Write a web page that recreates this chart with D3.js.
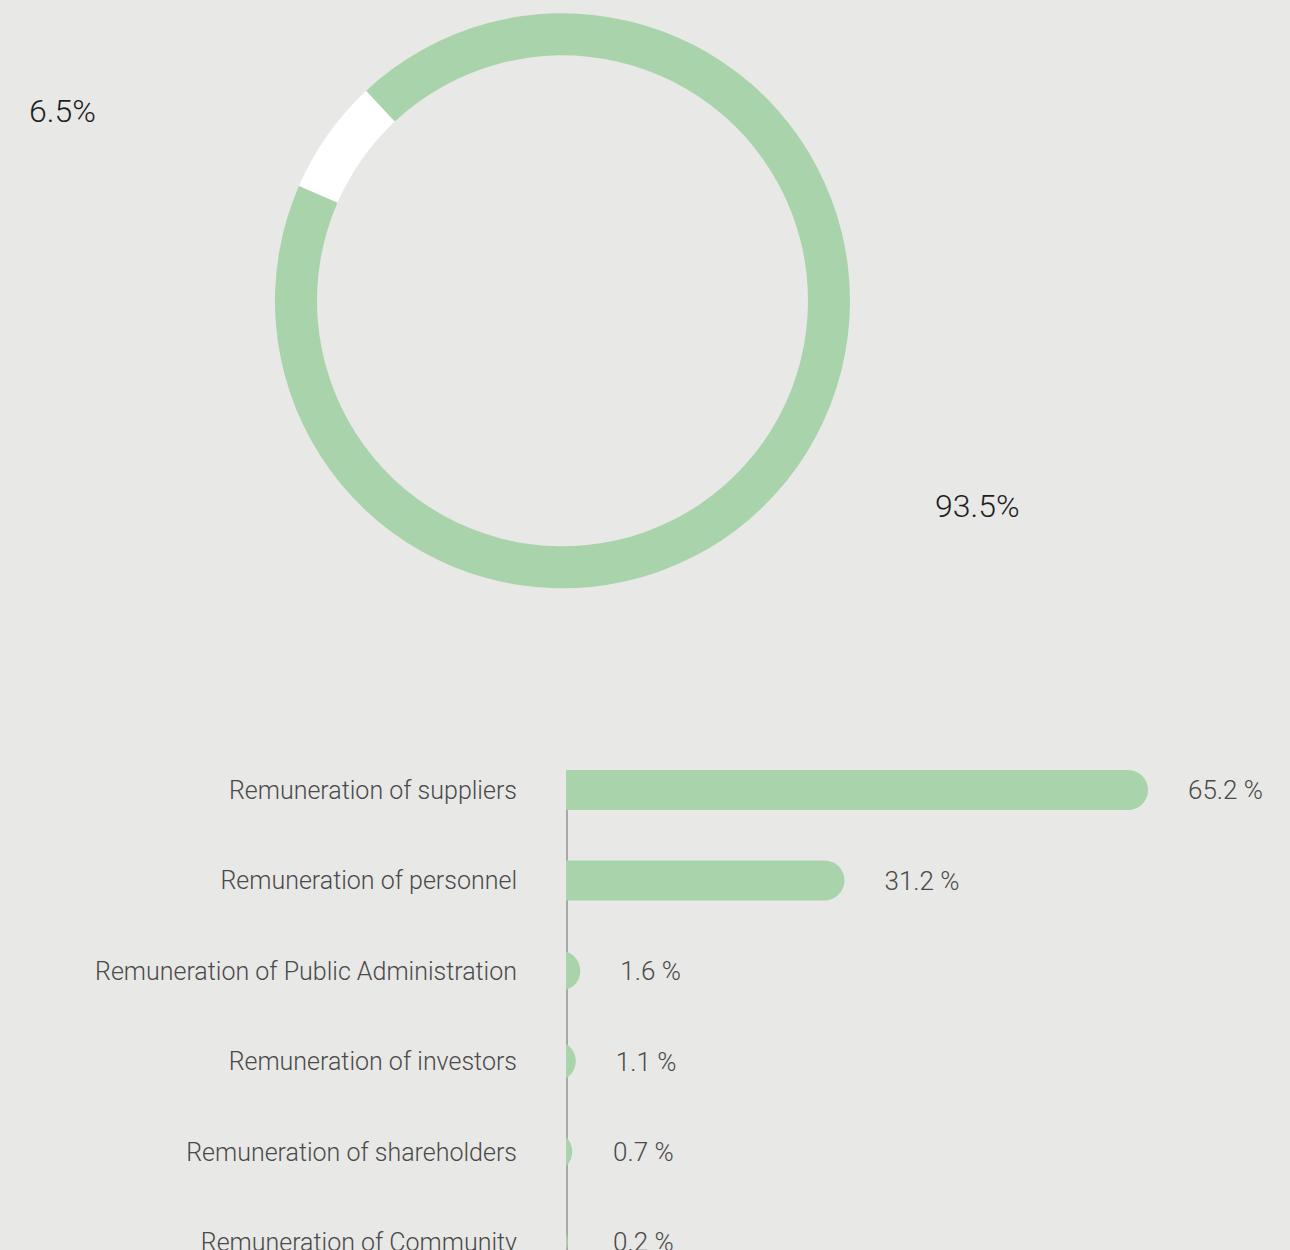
<!DOCTYPE html>
<html>
<head>
<meta charset="utf-8">
<script src="https://cdn.jsdelivr.net/npm/d3@7"></script>
<style>
  html, body { margin: 0; padding: 0; background: #e8e8e6; }
  svg { display: block; font-family: Roboto, "Noto Sans", sans-serif; }
</style>
</head>
<body>
<svg id="chart" width="1290" height="1250"></svg>
<script>
// ---- data ----
const donutLabels = ["6.5%", "93.5%"];
const donutValues = [6.5, 93.5];
const donutColors = ["#ffffff", "#a9d3ab"];

const barCategories = [
  "Remuneration of suppliers",
  "Remuneration of personnel",
  "Remuneration of Public Administration",
  "Remuneration of investors",
  "Remuneration of shareholders",
  "Remuneration of Community"
];
const barValues = [65.2, 31.2, 1.6, 1.1, 0.7, 0.2];
const barValueLabels = ["65.2 %", "31.2 %", "1.6 %", "1.1 %", "0.7 %", "0.2 %"];

// ---- setup ----
const svg = d3.select("#chart");
const W = 1290, H = 1250;
svg.append("rect").attr("width", W).attr("height", H).attr("fill", "#e8e8e6");

// ---- donut ----
const cx = 562.5, cy = 300.8, rOuter = 287.5, rInner = 245.5;
const start = -1.16;
const pie = d3.pie().sort(null).startAngle(start).endAngle(start + 2 * Math.PI);
const arc = d3.arc().innerRadius(rInner).outerRadius(rOuter);
const arcs = pie(donutValues);
const gD = svg.append("g").attr("transform", `translate(${cx},${cy})`);
gD.selectAll("path").data(arcs).join("path")
  .attr("d", arc)
  .attr("fill", (d, i) => donutColors[i]);

// labels for donut
const donutLabelPos = [[29, 122], [935, 517]];
svg.selectAll("text.dl").data(donutLabels).join("text")
  .attr("class", "dl")
  .attr("x", (d, i) => donutLabelPos[i][0])
  .attr("y", (d, i) => donutLabelPos[i][1])
  .attr("font-size", 32)
  .attr("font-weight", 300)
  .attr("fill", "#1e1e1e")
  .text(d => d);

// ---- bar chart ----
const x0 = 566;
const x = d3.scaleLinear().domain([0, 65.2]).range([0, 582]);
const y = d3.scalePoint().domain(barCategories).range([790, 1242]);
const bh = 40, rad = 20;

const defs = svg.append("defs");
defs.append("clipPath").attr("id", "barclip")
  .append("rect").attr("x", x0).attr("y", 700).attr("width", W - x0).attr("height", H);

// axis line
const axis = d3.axisLeft(y).tickSize(0).tickFormat("");
const gA = svg.append("g").attr("transform", `translate(${x0 + 1},0)`).call(axis);
gA.select(".domain").attr("stroke", "#a8a8a8").attr("stroke-width", 2)
  .attr("d", `M0,${y(barCategories[0]) - bh / 2}V${H}`);

function barPath(w, yTop) {
  // flat left edge at x0, rounded right end of radius rad
  const xe = x0 + w;
  const cxr = xe - rad;
  const left = Math.min(x0, cxr) - rad;
  return `M${left},${yTop}H${cxr}A${rad},${rad} 0 0 1 ${cxr},${yTop + bh}H${left}Z`;
}

const gB = svg.append("g").attr("clip-path", "url(#barclip)");
gB.selectAll("path").data(barValues).join("path")
  .attr("d", (d, i) => barPath(x(d), y(barCategories[i]) - bh / 2))
  .attr("fill", "#a9d3ab");

// category labels
svg.selectAll("text.cat").data(barCategories).join("text")
  .attr("class", "cat")
  .attr("x", 517)
  .attr("y", d => y(d))
  .attr("dy", "0.36em")
  .attr("text-anchor", "end")
  .attr("font-size", 25)
  .attr("font-weight", 300)
  .attr("fill", "#4a4a4a")
  .text(d => d);

// value labels
svg.selectAll("text.val").data(barValues).join("text")
  .attr("class", "val")
  .attr("x", d => x0 + Math.max(x(d) + 40, 47))
  .attr("y", (d, i) => y(barCategories[i]))
  .attr("dy", "0.36em")
  .attr("font-size", 26)
  .attr("font-weight", 300)
  .attr("fill", "#4a4a4a")
  .text((d, i) => barValueLabels[i]);
</script>
</body>
</html>
